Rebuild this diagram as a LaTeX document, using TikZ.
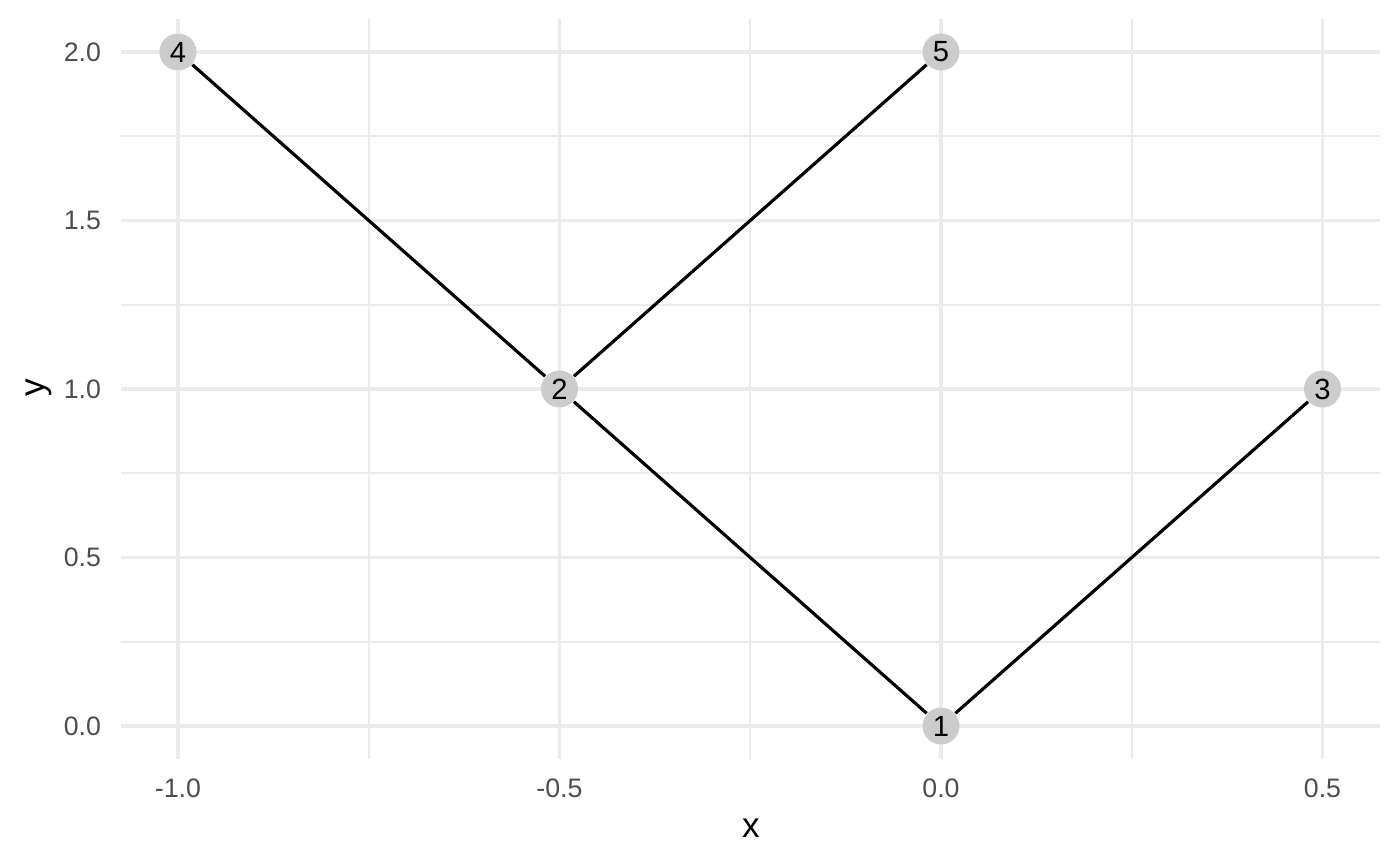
\documentclass[tikz,border=0pt]{standalone}
\usepackage{fontspec}
\setmainfont{Liberation Sans}
\definecolor{gridc}{HTML}{EBEBEB}
\definecolor{tickc}{HTML}{4D4D4D}
\definecolor{nodec}{HTML}{CCCCCC}
\tikzset{
  majorgrid/.style={draw=gridc, line width=1pt},
  minorgrid/.style={draw=gridc, line width=0.5pt},
  vert/.style={circle, fill=nodec, minimum size=0.37cm, inner sep=0pt, font=\fontsize{8.3}{9}\selectfont},
  edge/.style={draw=black, line width=0.9pt},
  ticklab/.style={text=tickc, font=\fontsize{7.6}{8}\selectfont, inner sep=0pt},
  axtitle/.style={text=black, font=\fontsize{10}{12}\selectfont, inner sep=0pt}
}
\begin{document}
\begin{tikzpicture}
\useasboundingbox (0,0) rectangle (14,8.66);
\begin{scope}[shift={(9.41,1.40)}, x=7.63cm, y=3.37cm]
  % minor grid
  \foreach \gx in {-0.75,-0.25,0.25} \draw[minorgrid] (\gx,-0.098) -- (\gx,2.098);
  \foreach \gy in {0.25,0.75,1.25,1.75} \draw[minorgrid] (-1.0747,\gy) -- (0.5754,\gy);
  % major grid
  \foreach \gx in {-1,-0.5,0,0.5} \draw[majorgrid] (\gx,-0.098) -- (\gx,2.098);
  \foreach \gy in {0,0.5,1,1.5,2} \draw[majorgrid] (-1.0747,\gy) -- (0.5754,\gy);
  % tick labels
  \node[ticklab, anchor=east] (ty0) at (-1.1,0) {0.0};
  \node[ticklab, anchor=east] (ty1) at (-1.1,0.5) {0.5};
  \node[ticklab, anchor=east] (ty2) at (-1.1,1) {1.0};
  \node[ticklab, anchor=east] (ty3) at (-1.1,1.5) {1.5};
  \node[ticklab, anchor=east] (ty4) at (-1.1,2) {2.0};
  \node[ticklab] (tx0) at (-1,-0.184) {-1.0};
  \node[ticklab] (tx1) at (-0.5,-0.184) {-0.5};
  \node[ticklab] (tx2) at (0,-0.184) {0.0};
  \node[ticklab] (tx3) at (0.5,-0.184) {0.5};
  % vertices
  \node[vert] (n1) at (0,0) {1};
  \node[vert] (n2) at (-0.5,1) {2};
  \node[vert] (n3) at (0.5,1) {3};
  \node[vert] (n4) at (-1,2) {4};
  \node[vert] (n5) at (0,2) {5};
  % edges
  \draw[edge] (n1) -- (n2);
  \draw[edge] (n1) -- (n3);
  \draw[edge] (n2) -- (n4);
  \draw[edge] (n2) -- (n5);
\end{scope}
\node[axtitle] (xt) at (7.51,0.38) {x};
\node[axtitle, rotate=90] (yt) at (0.39,4.78) {y};
\end{tikzpicture}
\end{document}
